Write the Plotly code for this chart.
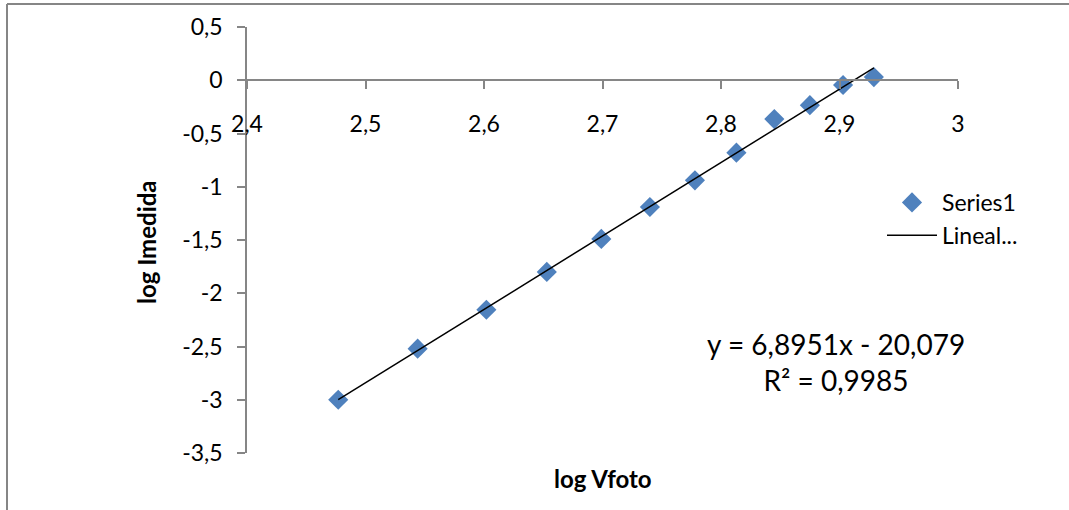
import plotly.graph_objects as go

# Measured photovoltage (log10) and measured current (log10)
log_vfoto = [2.477, 2.544, 2.602, 2.653, 2.699, 2.740, 2.778, 2.813, 2.845, 2.875, 2.903, 2.929]
log_imedida = [-3.00, -2.52, -2.155, -1.80, -1.49, -1.19, -0.94, -0.68, -0.365, -0.234, -0.045, 0.03]

# Linear trendline as reported on the chart
slope = 6.8951
intercept = -20.079
r_squared = 0.9985

x_ticks = [2.4, 2.5, 2.6, 2.7, 2.8, 2.9, 3.0]
x_tick_text = ["2,4", "2,5", "2,6", "2,7", "2,8", "2,9", "3"]
y_ticks = [0.5, 0, -0.5, -1, -1.5, -2, -2.5, -3, -3.5]
y_tick_text = ["0,5", "0", "-0,5", "-1", "-1,5", "-2", "-2,5", "-3", "-3,5"]

W, H = 1069, 510
ML, MR, MT, MB = 247, 111, 27, 57
PW = W - ML - MR
PH = H - MT - MB

FONT = "Lato, Carlito, Calibri, sans-serif"
AXIS_GREY = "#868686"
BLUE = "#4F81BD"
TICK_SIZE = 23
TITLE_SIZE = 24

def px_x(p):
    return (p - ML) / PW

def px_y(p):
    return 1 - (p - MT) / PH

trend_x = [min(log_vfoto), max(log_vfoto)]
trend_y = [slope * v + intercept for v in trend_x]

fig = go.Figure()
fig.add_trace(go.Scatter(
    x=log_vfoto, y=log_imedida, mode="markers", name="Series1",
    marker=dict(symbol="diamond", size=15.5, color=BLUE, line=dict(width=0)),
    legendgroup="a",
))
fig.add_trace(go.Scatter(
    x=trend_x, y=trend_y, mode="lines", name="Lineal...",
    line=dict(color="black", width=1.5),
    legendgroup="b",
))

y_min, y_max = -3.5, 0.5
fig.update_layout(
    width=W, height=H,
    margin=dict(l=ML, r=MR, t=MT, b=MB, pad=0),
    paper_bgcolor="white", plot_bgcolor="white",
    font=dict(family=FONT, size=TICK_SIZE, color="black"),
    xaxis=dict(
        range=[2.4, 3.0], tickvals=x_ticks, ticktext=x_tick_text,
        showgrid=False, zeroline=False,
        showline=True, linecolor=AXIS_GREY, linewidth=1.5,
        ticks="outside", ticklen=8, tickcolor=AXIS_GREY, tickwidth=1.5,
        anchor="free", position=(0 - y_min) / (y_max - y_min),
        ticklabelstandoff=15,
        tickfont=dict(family=FONT, size=TICK_SIZE, color="black"),
    ),
    yaxis=dict(
        range=[y_min, y_max], tickvals=y_ticks, ticktext=y_tick_text,
        showgrid=False, zeroline=False,
        showline=True, linecolor=AXIS_GREY, linewidth=1.5,
        ticks="outside", ticklen=8, tickcolor=AXIS_GREY, tickwidth=1.5,
        ticklabelstandoff=10,
        tickfont=dict(family=FONT, size=TICK_SIZE, color="black"),
    ),
    legend=dict(
        x=px_x(882), y=px_y(181), xanchor="left", yanchor="top",
        bgcolor="rgba(0,0,0,0)", borderwidth=0,
        font=dict(family=FONT, size=TICK_SIZE, color="black"),
        itemwidth=50, tracegroupgap=0,
    ),
    showlegend=True,
)

annotations = [
    dict(text="<b>log Vfoto</b>", x=px_x(603), y=px_y(478), xref="paper", yref="paper",
         xanchor="center", yanchor="middle",
         showarrow=False, font=dict(family=FONT, size=TITLE_SIZE, color="black")),
    dict(text="<b>log Imedida</b>", x=px_x(147), y=px_y(242), xref="paper", yref="paper",
         xanchor="center", yanchor="middle",
         showarrow=False, textangle=-90, font=dict(family=FONT, size=TITLE_SIZE, color="black")),
    dict(text=f"y = {str(slope).replace('.', ',')}x - {str(abs(intercept)).replace('.', ',')}"
              f"<br>R² = {str(r_squared).replace('.', ',')}",
         x=px_x(836), y=px_y(362), xref="paper", yref="paper", showarrow=False,
         xanchor="center", yanchor="middle",
         align="center", font=dict(family=FONT, size=28, color="black")),
]
fig.update_layout(annotations=annotations)

# Chart-area frame: top and left edges
fig.add_shape(type="line", xref="paper", yref="paper",
              x0=px_x(7), x1=px_x(W + 5), y0=px_y(4), y1=px_y(4),
              line=dict(color=AXIS_GREY, width=2))
fig.add_shape(type="line", xref="paper", yref="paper",
              x0=px_x(7), x1=px_x(7), y0=px_y(4), y1=px_y(H + 5),
              line=dict(color=AXIS_GREY, width=2))

fig.write_html("out.html")
